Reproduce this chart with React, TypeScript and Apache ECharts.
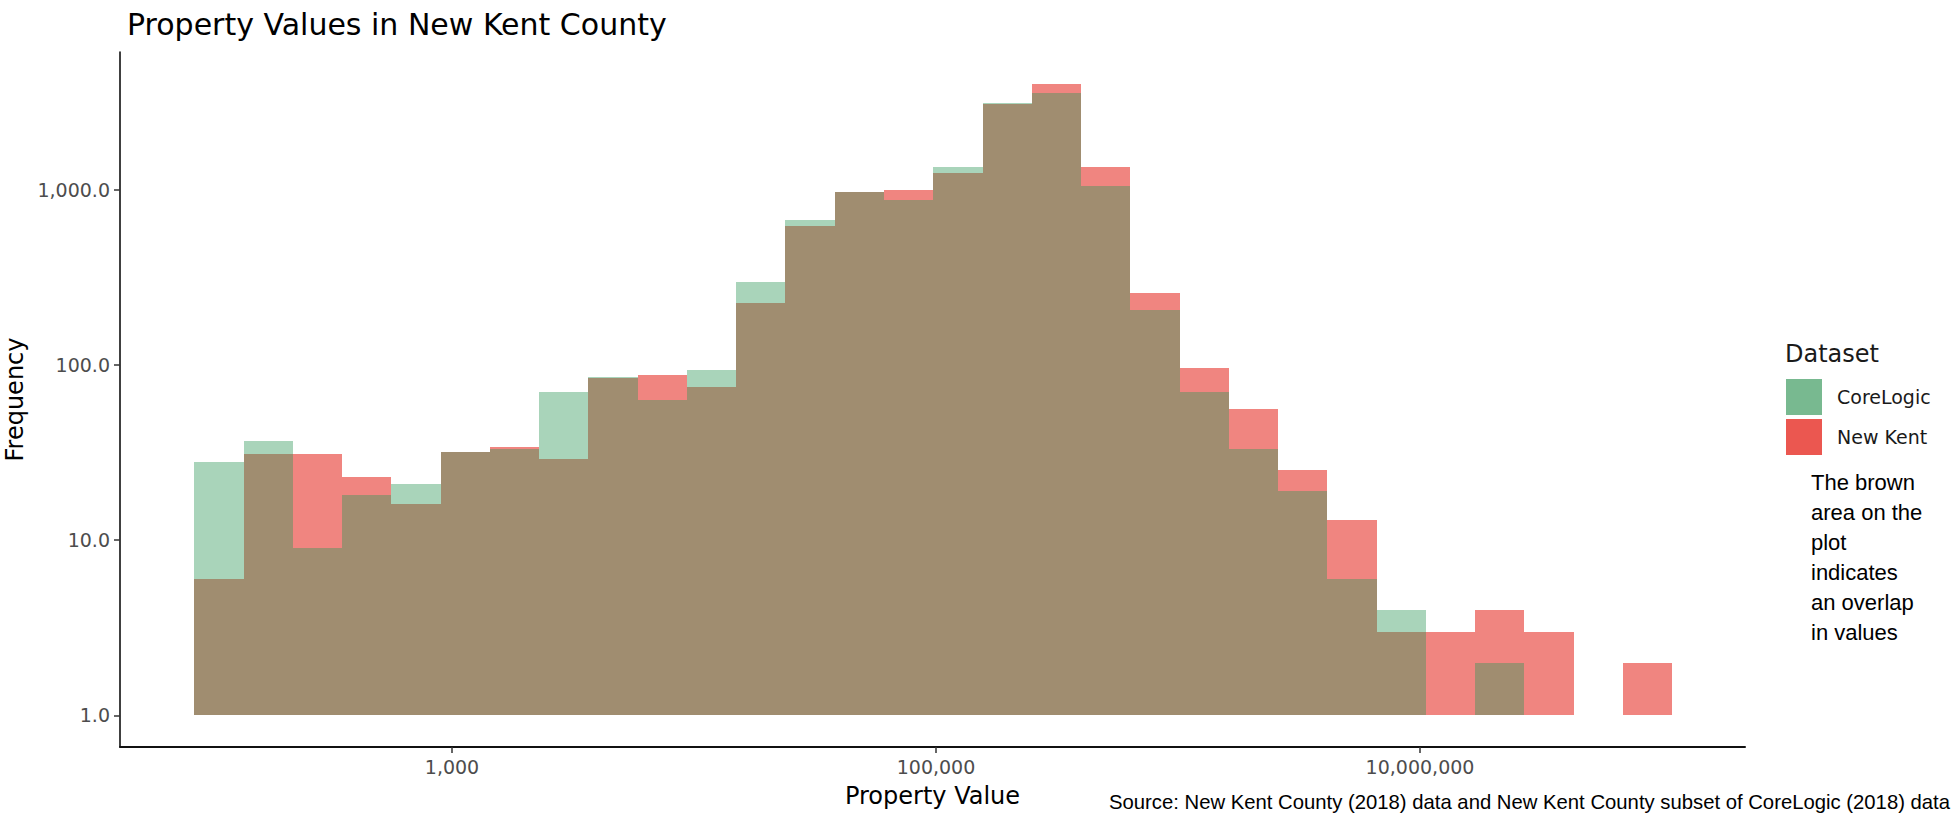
import React, { useEffect, useRef } from "react";
import * as echarts from "echarts";

// Histogram bin edges (log10 of property value), 30 bins
const binEdgesLog10 = [
  1.935, 2.1386, 2.3422, 2.5458, 2.7493, 2.9529, 3.1565, 3.3601, 3.5637, 3.7673,
  3.9709, 4.1744, 4.378, 4.5816, 4.7852, 4.9888, 5.1924, 5.396, 5.5996, 5.8031,
  6.0067, 6.2103, 6.4139, 6.6175, 6.8211, 7.0247, 7.2282, 7.4318, 7.6354, 7.839,
  8.0426,
];

// Frequencies per bin
const coreLogicCounts = [
  28, 37, 9, 18, 21, 32, 33, 70, 85, 63, 94, 297, 674, 970, 869, 1341, 3140, 3585,
  1045, 206, 70, 33, 19, 6, 4, 0, 2, 0, 0, 0,
];
const newKentCounts = [
  6, 31, 31, 23, 16, 32, 34, 29, 84, 88, 75, 225, 617, 970, 996, 1251, 3070, 4035,
  1348, 257, 96, 56, 25, 13, 3, 3, 4, 3, 0, 2,
];

const seriesNames = ["CoreLogic", "New Kent"];
const xTickValues = [1000, 100000, 10000000];
const yTickValues = [1, 10, 100, 1000];
const annotationLines = ["The brown", "area on the", "plot", "indicates", "an overlap", "in values"];
const sourceText =
  "Source: New Kent County (2018) data and New Kent County subset of CoreLogic (2018) data";

const FONT = "DejaVu Sans";

function toBins(counts: number[]) {
  const out: number[][] = [];
  counts.forEach((c, i) => {
    if (c > 0) out.push([binEdgesLog10[i], binEdgesLog10[i + 1], Math.log10(c)]);
  });
  return out;
}

function makeRender(fill: string, opacity: number) {
  return (params: any, api: any) => {
    const p0 = api.coord([api.value(0), api.value(2)]);
    const p1 = api.coord([api.value(1), 0]);
    const x0 = Math.round(p0[0]);
    const x1 = Math.round(p1[0]);
    const y0 = Math.round(p0[1]);
    const y1 = Math.round(p1[1]);
    return {
      type: "rect",
      shape: { x: x0, y: y0, width: x1 - x0, height: y1 - y0 },
      style: { fill, opacity },
    };
  };
}

export default function App() {
  const ref = useRef<HTMLDivElement>(null);
  useEffect(() => {
    if (!ref.current) return;
    const chart = echarts.init(ref.current, null, { renderer: "svg" });
    const xTicks = xTickValues.map((v) => Math.log10(v));
    const yTicks = yTickValues.map((v) => Math.log10(v));
    chart.setOption({
      animation: false,
      backgroundColor: "#ffffff",
      title: {
        text: "Property Values in New Kent County",
        left: 122,
        top: 4,
        textStyle: { fontFamily: FONT, fontSize: 30, fontWeight: "normal", color: "#000" },
      },
      grid: { left: 120, right: 215, top: 52, bottom: 74, containLabel: false, outerBoundsMode: "none" },
      xAxis: {
        type: "value",
        min: 1.628,
        max: 8.343,
        name: "Property Value",
        nameLocation: "middle",
        nameGap: 37,
        nameTextStyle: { fontFamily: FONT, fontSize: 24, color: "#000" },
        axisLine: { show: true, onZero: false, lineStyle: { color: "#111", width: 2 } },
        axisTick: { show: true, length: 6, customValues: xTicks, lineStyle: { color: "#333", width: 1.5 } },
        axisLabel: {
          customValues: xTicks,
          margin: 10,
          fontFamily: FONT,
          fontSize: 19,
          color: "#4D4D4D",
          formatter: (v: number) => Math.round(Math.pow(10, v)).toLocaleString("en-US"),
        },
        splitLine: { show: false },
      },
      yAxis: {
        type: "value",
        min: -0.18,
        max: 3.786,
        name: "Frequency",
        nameLocation: "middle",
        nameGap: 92,
        nameTextStyle: { fontFamily: FONT, fontSize: 24, color: "#000" },
        axisLine: { show: true, onZero: false, lineStyle: { color: "#000", width: 1.5 } },
        axisTick: { show: true, length: 6, customValues: yTicks, lineStyle: { color: "#333", width: 1.5 } },
        axisLabel: {
          customValues: yTicks,
          margin: 10,
          fontFamily: FONT,
          fontSize: 19,
          color: "#4D4D4D",
          formatter: (v: number) =>
            Math.pow(10, v).toLocaleString("en-US", { minimumFractionDigits: 1, maximumFractionDigits: 1 }),
        },
        splitLine: { show: false },
      },
      legend: {
        orient: "vertical",
        left: 1786,
        top: 379,
        padding: 0,
        itemWidth: 36,
        itemHeight: 36,
        itemGap: 4,
        icon: "rect",
        textStyle: { fontFamily: FONT, fontSize: 19, color: "#1a1a1a", padding: [0, 0, 0, 10] },
        data: [
          { name: seriesNames[0], itemStyle: { color: "#78B990", opacity: 1 } },
          { name: seriesNames[1], itemStyle: { color: "#EB5750", opacity: 1 } },
        ],
      },
      graphic: [
        {
          type: "text",
          left: 1785,
          top: 342,
          style: { text: "Dataset", fontFamily: FONT, fontSize: 24, fill: "#1a1a1a" },
        },
        {
          type: "text",
          left: 1811,
          top: 467,
          style: {
            text: annotationLines.join("\n"),
            fontFamily: "Liberation Sans",
            fontSize: 22,
            lineHeight: 30,
            fill: "#000",
          },
        },
        {
          type: "text",
          left: 1109,
          top: 792,
          style: { text: sourceText, fontFamily: "Liberation Sans", fontSize: 20.3, fill: "#000" },
        },
      ],
      series: [
        {
          name: seriesNames[1],
          type: "custom",
          itemStyle: { color: "#E6342B", opacity: 0.6 },
          renderItem: makeRender("#E6342B", 0.6),
          encode: { x: [0, 1], y: 2 },
          data: toBins(newKentCounts),
          z: 2,
        },
        {
          name: seriesNames[0],
          type: "custom",
          itemStyle: { color: "#32995B", opacity: 0.42 },
          renderItem: makeRender("#32995B", 0.42),
          encode: { x: [0, 1], y: 2 },
          data: toBins(coreLogicCounts),
          z: 3,
        },
      ],
    });
    return () => chart.dispose();
  }, []);
  return (
    <div
      ref={ref}
      style={{ position: "fixed", left: 0, top: 0, width: 1960, height: 821, background: "#fff" }}
    />
  );
}
